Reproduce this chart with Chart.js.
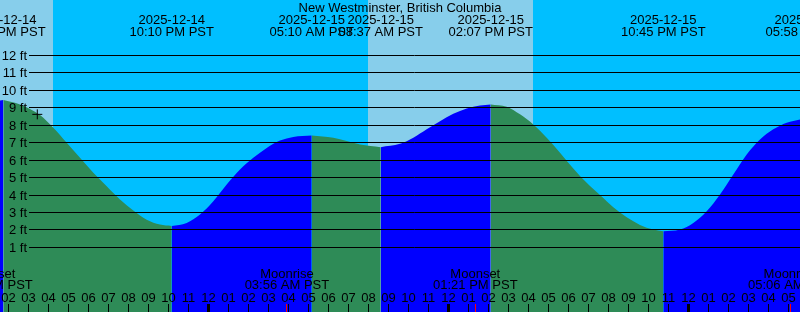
<!DOCTYPE html>
<html>
<head>
<meta charset="utf-8">
<title>New Westminster tides</title>
<script src="https://cdn.jsdelivr.net/npm/chart.js@4"></script>
<style>
  html, body { margin: 0; padding: 0; background: #87ceeb; }
  #wrap { width: 800px; height: 312px; }
</style>
</head>
<body>
<div id="wrap"><canvas id="tide" width="800" height="312"></canvas></div>
<script>
// —————— DATA ——————
// hours are counted from 2025-12-14 00:00 PST
const tideHours = [
  13.585, 13.75, 14.585, 15.585, 16.25, 16.92, 17.585, 18.25, 18.92, 19.585,
  20.25, 20.92, 21.585, 22.17, 22.92, 23.585, 24.25, 24.92, 25.585, 26.25,
  26.92, 27.585, 28.25, 29.17, 30.25, 30.92, 31.585, 32.62, 33.585, 34.25,
  34.92, 35.585, 36.25, 36.92, 37.585, 38.12, 38.92, 39.585, 40.25, 40.92,
  41.585, 42.25, 42.92, 43.585, 44.25, 44.92, 45.585, 46.25, 46.75, 47.585,
  48.25, 48.92, 49.585, 50.25, 50.92, 51.585, 52.25, 52.92, 53.585
];
const tideFeet = [
  9.42, 9.44, 9.19, 8.58, 7.85, 6.99, 6.13, 5.27, 4.50, 3.74,
  3.11, 2.59, 2.31, 2.23, 2.40, 2.88, 3.64, 4.60, 5.46, 6.13,
  6.70, 7.12, 7.33, 7.41, 7.28, 7.09, 6.89, 6.74, 6.93, 7.28,
  7.76, 8.23, 8.65, 8.96, 9.13, 9.19, 9.06, 8.62, 8.04, 7.28,
  6.42, 5.52, 4.70, 4.00, 3.30, 2.72, 2.29, 2.02, 1.92, 2.02,
  2.40, 3.07, 4.03, 5.17, 6.32, 7.18, 7.76, 8.14, 8.33
];

const extremeHours = [13.75, 22.17, 29.17, 32.62, 38.12, 46.75, 53.97];
const extremeDates = ['2025-12-14', '2025-12-14', '2025-12-15', '2025-12-15', '2025-12-15', '2025-12-15', '2025-12-16'];
const extremeTimes = ['01:45 PM PST', '10:10 PM PST', '05:10 AM PST', '08:37 AM PST', '02:07 PM PST', '10:45 PM PST', '05:58 AM PST'];

const moonHours  = [13.11, 27.93, 37.35, 53.10];
const moonEvents = ['Moonset', 'Moonrise', 'Moonset', 'Moonrise'];
const moonTimes  = ['01:07 PM PST', '03:56 AM PST', '01:21 PM PST', '05:06 AM PST'];

const nightStart = [16.23, 40.23];
const nightEnd   = [31.98, 56.0];

const depthTicks = [1, 2, 3, 4, 5, 6, 7, 8, 9, 10, 11, 12];
const nowHour = [15.45];
const nowFeet = [8.62];

const X_MIN = 13.585, X_MAX = 53.585;
const Y_MIN = -2.70, Y_MAX = 15.17;

const FONT = '13px "Liberation Sans", Arial, sans-serif';
const RISING = '#0000ff', FALLING = '#2e8b57';

// —————— SEGMENTS (rising / falling) ——————
const first = tideHours[0], last = tideHours[tideHours.length - 1];
const cuts = [first, ...extremeHours.filter(h => h > first && h < last), last];
const segments = [];
for (let i = 0; i < cuts.length - 1; i++) {
  const pts = [];
  tideHours.forEach((h, j) => {
    if (h >= cuts[i] - 1e-6 && h <= cuts[i + 1] + 1e-6) pts.push({ x: h, y: tideFeet[j] });
  });
  const rising = pts[pts.length - 1].y > pts[0].y;
  segments.push({
    type: 'line',
    data: pts,
    fill: 'start',
    backgroundColor: rising ? RISING : FALLING,
    borderWidth: 0,
    borderColor: 'rgba(0,0,0,0)',
    pointRadius: 0,
    cubicInterpolationMode: 'monotone',
    order: 1
  });
}

// —————— BACKGROUND, GRID & LABELS ——————
const tideArt = {
  id: 'tideArt',
  beforeDraw(chart) {
    const { ctx, scales: { x } } = chart;
    ctx.save();
    ctx.fillStyle = '#87ceeb';
    ctx.fillRect(0, 0, chart.width, chart.height);
    ctx.fillStyle = '#00bfff';
    nightStart.forEach((s, i) => {
      const x0 = Math.round(x.getPixelForValue(s));
      const x1 = Math.round(x.getPixelForValue(nightEnd[i]));
      ctx.fillRect(x0, 0, x1 - x0, chart.height);
    });
    ctx.restore();
  },
  afterDatasetsDraw(chart) {
    const { ctx, scales: { x, y } } = chart;
    const W = chart.width;
    ctx.save();
    ctx.font = FONT;
    ctx.fillStyle = '#000';
    ctx.strokeStyle = '#000';
    ctx.lineWidth = 1;

    // depth lines and labels
    depthTicks.forEach(ft => {
      const py = Math.floor(y.getPixelForValue(ft)) + 0.5;
      ctx.beginPath();
      ctx.moveTo(29, py); ctx.lineTo(W, py);
      ctx.stroke();
      ctx.textAlign = 'right';
      ctx.fillText(ft + ' ft', 27, Math.round(py + 4));
    });

    // hour ticks
    ctx.textAlign = 'center';
    for (let h = Math.ceil(X_MIN); h <= Math.floor(X_MAX); h++) {
      const px = Math.floor(x.getPixelForValue(h));
      const lbl = String((h % 12) || 12).padStart(2, '0');
      ctx.fillText(lbl, px + 0.5, 302);
      if (h % 12 === 0) ctx.fillRect(px - 1, 304, 3, 8);
      else ctx.fillRect(px, 304, 1, 8);
    }

    // moon events
    moonHours.forEach((h, i) => {
      const px = x.getPixelForValue(h);
      ctx.fillStyle = '#000';
      ctx.fillText(moonEvents[i], px, 278);
      ctx.fillText(moonTimes[i], px, 289);
      ctx.fillStyle = '#ff0000';
      ctx.fillRect(Math.floor(px), 304, 1, 8);
    });

    // high / low labels
    ctx.fillStyle = '#000';
    extremeHours.forEach((h, i) => {
      const px = x.getPixelForValue(h);
      ctx.fillText(extremeDates[i], px, 24);
      ctx.fillText(extremeTimes[i], px, 36);
    });

    // title
    ctx.fillText('New Westminster, British Columbia', W / 2, 12);
    ctx.restore();
  }
};

// —————— CHART ——————
window.addEventListener('DOMContentLoaded', function () {
  const ctx = document.getElementById('tide');
  new Chart(ctx, {
    data: {
      datasets: [
        ...segments,
        {
          type: 'scatter',
          data: nowHour.map((h, i) => ({ x: h, y: nowFeet[i] })),
          pointStyle: 'cross',
          pointRadius: 5,
          borderColor: '#000',
          borderWidth: 1,
          backgroundColor: '#000',
          order: 0
        }
      ]
    },
    options: {
      responsive: false,
      animation: false,
      events: [],
      layout: { padding: 0, autoPadding: false },
      plugins: { legend: { display: false }, tooltip: { enabled: false } },
      scales: {
        x: { type: 'linear', min: X_MIN, max: X_MAX, display: false },
        y: { type: 'linear', min: Y_MIN, max: Y_MAX, display: false }
      }
    },
    plugins: [tideArt]
  });
});
</script>
</body>
</html>
